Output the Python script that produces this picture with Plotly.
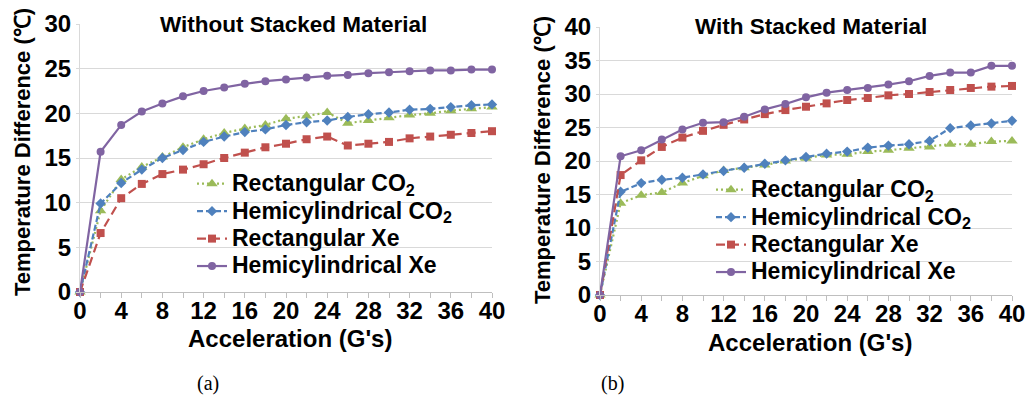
import plotly.graph_objects as go

# ---- data ----
ACCEL = [0, 2, 4, 6, 8, 10, 12, 14, 16, 18, 20, 22, 24, 26, 28, 30, 32, 34, 36, 38, 40]

SERIES_NAMES = ["Rectangular CO<sub>2</sub>", "Hemicylindrical CO<sub>2</sub>",
                "Rectangular Xe", "Hemicylindrical Xe"]

# (a) Without stacked material
A_RECT_CO2 = [0, 9.1, 12.6, 14.0, 15.1, 16.2, 17.1, 17.8, 18.3, 18.7, 19.4, 19.7, 20.1, 18.9, 19.2, 19.5, 19.8, 20.0, 20.3, 20.5, 20.7]
A_HEMI_CO2 = [0, 9.9, 12.2, 13.7, 15.0, 15.9, 16.8, 17.4, 17.9, 18.2, 18.7, 19.0, 19.2, 19.6, 19.9, 20.1, 20.4, 20.5, 20.7, 20.9, 21.0]
A_RECT_XE = [0, 6.6, 10.5, 12.1, 13.2, 13.7, 14.3, 15.0, 15.6, 16.2, 16.6, 17.1, 17.4, 16.4, 16.6, 16.8, 17.2, 17.4, 17.6, 17.8, 18.0]
A_HEMI_XE = [0, 15.7, 18.7, 20.2, 21.1, 21.9, 22.5, 22.9, 23.3, 23.6, 23.8, 24.0, 24.2, 24.3, 24.5, 24.6, 24.7, 24.8, 24.8, 24.9, 24.9]

# (b) With stacked material
B_RECT_CO2 = [0, 13.7, 14.9, 15.3, 16.7, 17.8, 18.6, 19.0, 19.4, 20.0, 20.4, 20.9, 21.0, 21.4, 21.6, 21.9, 22.1, 22.5, 22.5, 22.9, 23.0]
B_HEMI_CO2 = [0, 15.4, 16.7, 17.2, 17.5, 18.0, 18.5, 19.0, 19.6, 20.1, 20.6, 21.1, 21.4, 22.0, 22.3, 22.5, 23.0, 24.9, 25.3, 25.6, 26.0]
B_RECT_XE = [0, 17.9, 20.1, 22.1, 23.5, 24.5, 25.4, 26.2, 27.0, 27.6, 28.1, 28.6, 29.1, 29.4, 29.8, 30.0, 30.3, 30.6, 30.9, 31.1, 31.2]
B_HEMI_XE = [0, 20.7, 21.6, 23.2, 24.7, 25.7, 25.8, 26.6, 27.7, 28.5, 29.5, 30.2, 30.6, 30.9, 31.4, 31.9, 32.7, 33.2, 33.2, 34.2, 34.2]

TITLE_A = "Without Stacked Material"
TITLE_B = "With Stacked Material"
X_TITLE = "Acceleration (G's)"
Y_TITLE = "Temperature Difference (℃)"

# ---- styles ----
FONT = "Liberation Sans, Arial, sans-serif"
STYLES = [
    dict(color="#9BBB59", dash="2px,3px", symbol="triangle-up", size=10),
    dict(color="#4F81BD", dash="6px,3px", symbol="diamond", size=8),
    dict(color="#C0504D", dash="9px,5px", symbol="square", size=8),
    dict(color="#8064A2", dash="solid", symbol="circle", size=8),
]

W, H = 1026, 403
def px_x(p): return p / W
def px_y(p): return 1 - p / H

fig = go.Figure()

for series, axes, leg in [
        ([A_RECT_CO2, A_HEMI_CO2, A_RECT_XE, A_HEMI_XE], ("x", "y"), "legend"),
        ([B_RECT_CO2, B_HEMI_CO2, B_RECT_XE, B_HEMI_XE], ("x2", "y2"), "legend2")]:
    for name, vals, st in zip(SERIES_NAMES, series, STYLES):
        fig.add_trace(go.Scatter(
            x=ACCEL, y=vals,
            name='<span style="font-size:23px">' + name + '</span>',
            mode="lines+markers",
            xaxis=axes[0], yaxis=axes[1], legend=leg, cliponaxis=False,
            line=dict(color=st["color"], dash=st["dash"], width=2.2),
            marker=dict(color=st["color"], symbol=st["symbol"], size=st["size"]),
        ))

tickfont = dict(family=FONT, size=24, color="black", weight="bold")

def xaxis(domain, anchor):
    return dict(domain=domain, anchor=anchor, range=[0, 40], dtick=4, tick0=0,
                automargin=False,
                showgrid=False, zeroline=False, showline=True, linecolor="#BFBFBF",
                linewidth=1, ticks="outside", ticklen=5, tickcolor="#BFBFBF",
                ticklabelstandoff=-8,
                minor=dict(dtick=2, ticks="outside", ticklen=5, tickcolor="#BFBFBF"),
                tickfont=tickfont, fixedrange=True)

def yaxis(domain, anchor, top):
    return dict(domain=domain, anchor=anchor, range=[0, top], dtick=5,
                automargin=False,
                showgrid=True, gridcolor="#D9D9D9", gridwidth=1, zeroline=False,
                showline=True, linecolor="#D9D9D9", ticks="outside", ticklen=3,
                tickcolor="#D9D9D9", tickfont=tickfont, fixedrange=True)

legfont = dict(family=FONT, size=18.8, color="black", weight="bold")

fig.update_layout(
    width=W, height=H, margin=dict(l=0, r=0, t=0, b=0, autoexpand=False),
    paper_bgcolor="white", plot_bgcolor="white",
    xaxis=xaxis([px_x(80), px_x(492)], "y"),
    yaxis=yaxis([px_y(292), px_y(24)], "x", 30),
    xaxis2=xaxis([px_x(600), px_x(1012)], "y2"),
    yaxis2=yaxis([px_y(295), px_y(27)], "x2", 40),
    legend=dict(x=px_x(192), y=px_y(165), xanchor="left", yanchor="top",
                font=legfont, bgcolor="rgba(0,0,0,0)", itemwidth=30,
                tracegroupgap=0),
    legend2=dict(x=px_x(711), y=px_y(171), xanchor="left", yanchor="top",
                 font=legfont, bgcolor="rgba(0,0,0,0)", itemwidth=30,
                 tracegroupgap=0),
    showlegend=True,
)

def ann_txt(text, cx, cy, size, angle=0, family=FONT, weight="bold", **kw):
    return dict(text=text, x=px_x(cx), y=px_y(cy), xref="paper", yref="paper",
                xanchor="center", yanchor="middle", showarrow=False, textangle=angle,
                font=dict(family=family, size=size, color="black", weight=weight), **kw)

ann = [
    ann_txt(TITLE_A, 293, 24, 22.5, bgcolor="white", borderpad=6),
    ann_txt(TITLE_B, 811, 27, 22.5, bgcolor="white", borderpad=6),
    ann_txt(X_TITLE, 290, 338, 24),
    ann_txt(X_TITLE, 810, 342, 24),
    ann_txt(Y_TITLE, 22, 152, 22, angle=-90),
    ann_txt(Y_TITLE, 542, 160, 22, angle=-90),
    ann_txt("(a)", 208, 383, 20, family="Liberation Serif, Times New Roman, serif", weight="normal"),
    ann_txt("(b)", 612, 383, 20, family="Liberation Serif, Times New Roman, serif", weight="normal"),
]
fig.update_layout(annotations=ann)

fig.write_html("out.html", config={"displayModeBar": False},
               post_script="document.body.style.margin='0';")
